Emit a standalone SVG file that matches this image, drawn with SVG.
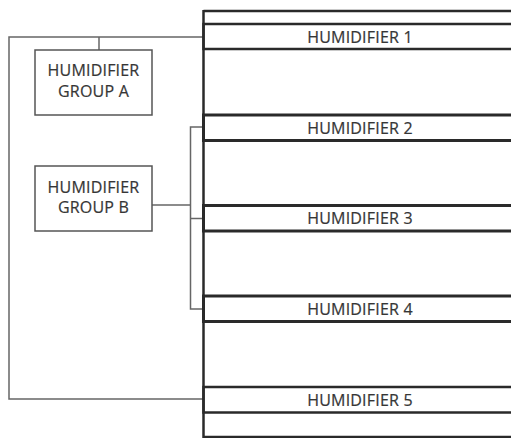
<svg xmlns="http://www.w3.org/2000/svg" width="511" height="438" viewBox="0 0 511 438">
<style>
.bg{fill:#fff}
.unit{fill:#fff;stroke:#2a2a2a;stroke-width:2.5}
.unit.thick{stroke-width:3}
.rail{fill:none;stroke:#2a2a2a;stroke-width:2.5}
.grp{fill:#fff;stroke:#555;stroke-width:1.5}
.wire{fill:none;stroke:#666;stroke-width:1.5}
text{font-family:"Open Sans","Noto Sans","Liberation Sans",sans-serif;font-size:16px;letter-spacing:0.2px;fill:#363636;stroke:#363636;stroke-width:0.2;text-anchor:middle}
</style>
<rect class="bg" x="0" y="0" width="511" height="438"/>
<g id="connectors">
<polyline class="wire" points="203,37 9,37 9,399 203,399"/>
<line class="wire" x1="99" y1="37" x2="99" y2="50"/>
<line class="wire" x1="152" y1="205" x2="190.5" y2="205"/>
<polyline class="wire" points="203,127 190.5,127 190.5,309 203,309"/>
<line class="wire" x1="190.5" y1="218.5" x2="203" y2="218.5"/>
</g>
<g id="frame">
<line class="rail" x1="203.5" y1="11" x2="520" y2="11"/>
<line class="rail" x1="203.5" y1="437" x2="520" y2="437"/>
</g>
<g id="humidifier1">
<rect class="unit" x="203.5" y="24" width="320" height="25"/>
<text x="360" y="43">HUMIDIFIER 1</text>
</g>
<g id="humidifier2">
<rect class="unit thick" x="203.5" y="115" width="320" height="25.5"/>
<text x="360" y="133.5">HUMIDIFIER 2</text>
</g>
<g id="humidifier3">
<rect class="unit thick" x="203.5" y="205.5" width="320" height="25.5"/>
<text x="360" y="224">HUMIDIFIER 3</text>
</g>
<g id="humidifier4">
<rect class="unit thick" x="203.5" y="296" width="320" height="25.5"/>
<text x="360" y="315">HUMIDIFIER 4</text>
</g>
<g id="humidifier5">
<rect class="unit" x="203.5" y="387" width="320" height="25.5"/>
<text x="360" y="405.5">HUMIDIFIER 5</text>
</g>
<g id="mainrail">
<line class="rail" x1="203.5" y1="10" x2="203.5" y2="438"/>
</g>
<g id="groupA">
<rect class="grp" x="35" y="50" width="117" height="65"/>
<text x="93.5" y="76">HUMIDIFIER</text>
<text x="93.5" y="96.5">GROUP A</text>
</g>
<g id="groupB">
<rect class="grp" x="35" y="166" width="117" height="65"/>
<text x="93.5" y="193">HUMIDIFIER</text>
<text x="93.5" y="213">GROUP B</text>
</g>
</svg>
